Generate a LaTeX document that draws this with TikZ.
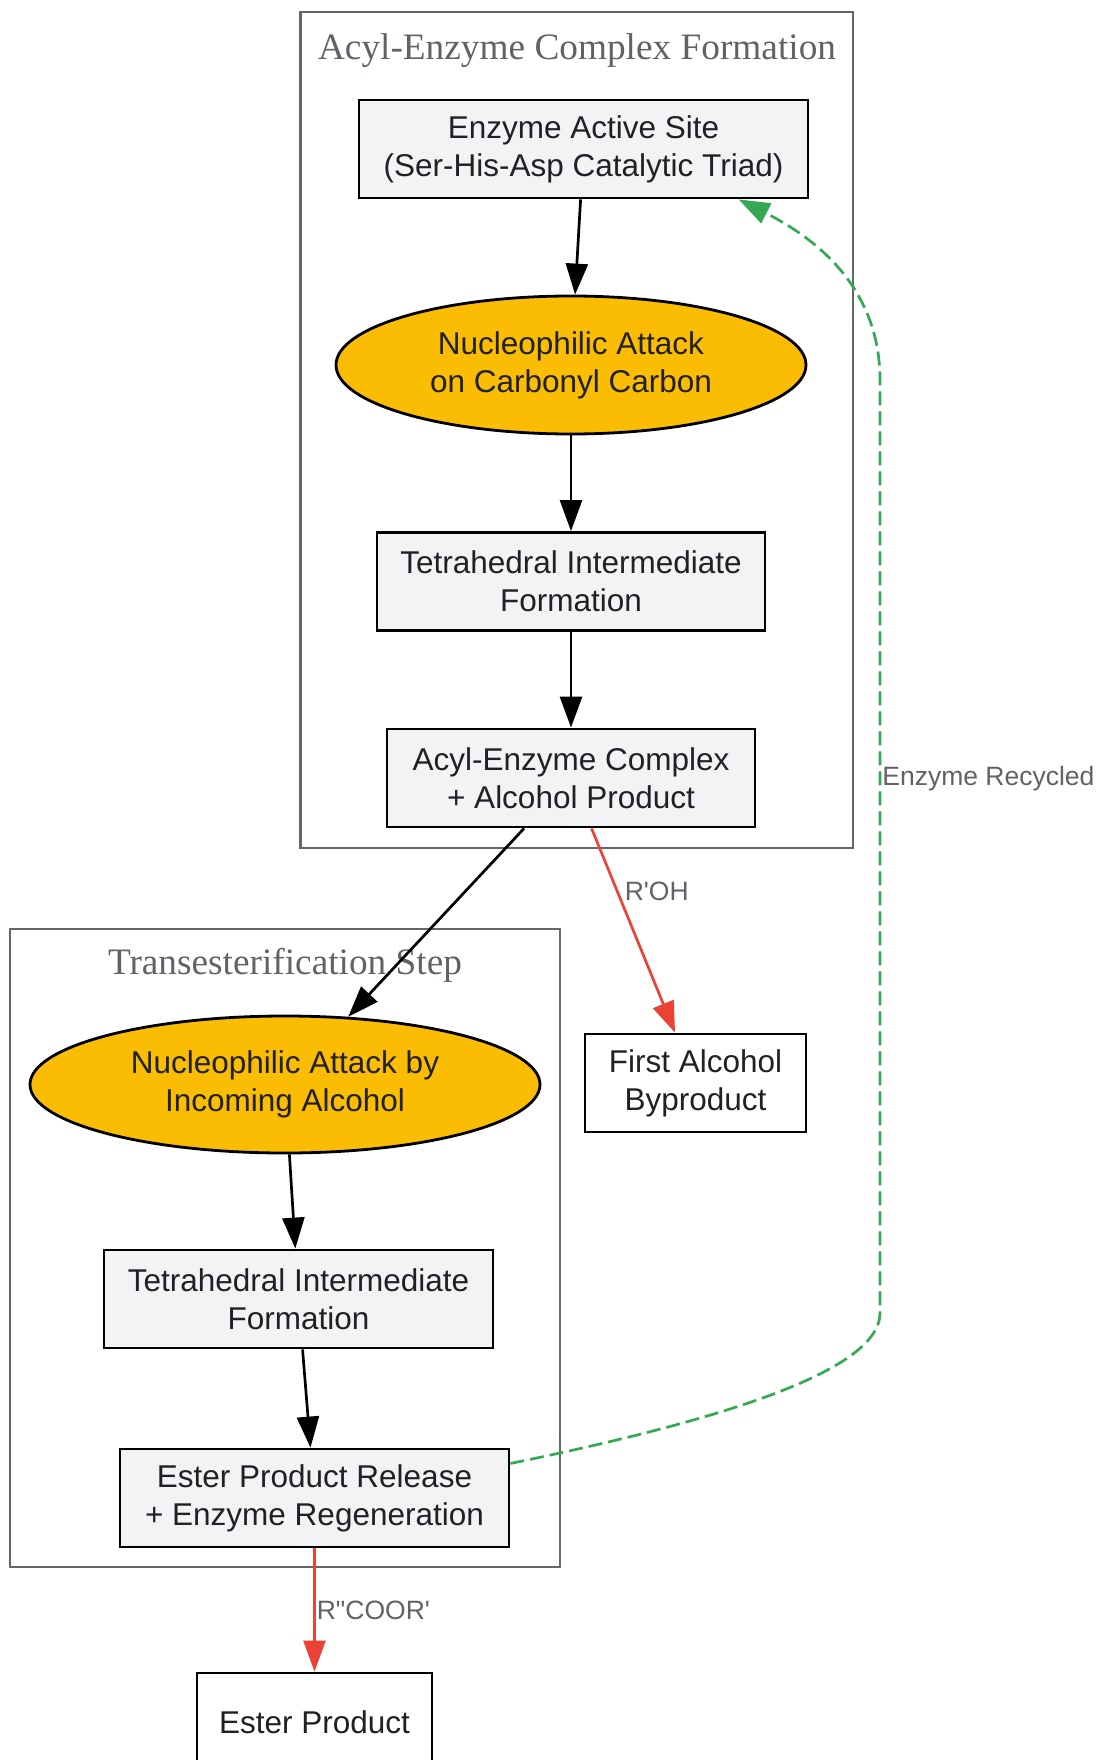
\documentclass[tikz,border=0pt]{standalone}
\usepackage{fontspec}
\setmainfont{Liberation Sans}[Ligatures=TeXOff]
\newfontfamily\titlefont{Liberation Serif}
\usetikzlibrary{positioning, arrows.meta, shapes}
\definecolor{boxfill}{HTML}{F1F3F4}
\definecolor{attackfill}{HTML}{FBBC04}
\definecolor{yieldred}{HTML}{EA4335}
\definecolor{recyclegreen}{HTML}{34A853}
\definecolor{clustergray}{HTML}{666666}
\definecolor{labelgray}{HTML}{5F6368}
\definecolor{inkdark}{HTML}{202124}

\begin{document}
\begin{tikzpicture}[x=1pt,y=-1pt,>={Triangle[length=31pt,width=22pt]},on grid,
	every node/.style={font=\fontsize{31.5}{38}\selectfont, text=inkdark},
	stepbox/.style={draw=black, line width=2.8pt, fill=boxfill, align=center, minimum height=98pt, inner sep=0pt},
	outbox/.style={stepbox, fill=white},
	attack/.style={ellipse, draw=black, line width=2.8pt, fill=attackfill, align=center, inner sep=0pt},
	cluster/.style={draw=clustergray, line width=2.6pt},
	clustertitle/.style={font=\titlefont\fontsize{37.3}{44}\selectfont, text=labelgray},
	elabel/.style={font=\fontsize{26.5}{32}\selectfont, text=labelgray, inner sep=1pt},
	flow/.style={->, line width=2.7pt},
	yieldarrow/.style={->, line width=2.7pt, color=yieldred},
	recycle/.style={->, line width=2.7pt, color=recyclegreen, dash pattern=on 14pt off 6pt}]
	
	\useasboundingbox (0,0) rectangle (1097,1760);
	
	%Clusters
	\draw[cluster] (300.5,12) rectangle (853,848);
	\node[clustertitle] (title1) at (577,51) {Acyl-Enzyme Complex Formation};
	\draw[cluster] (10,929) rectangle (560,1567);
	\node[clustertitle] (title2) at (285,965) {Transesterification Step};
	
	%Reaction steps
	\node[stepbox, minimum width=449pt] (site) at (583.5,149) {Enzyme Active Site\\(Ser-His-Asp Catalytic Triad)};
	\node[attack, minimum width=470pt, minimum height=138pt] (attack1) [below left=216pt and 12.5pt of site] {Nucleophilic Attack\\on Carbonyl Carbon};
	\node[stepbox, minimum width=388pt] (tetra1) [below=216.5pt of attack1] {Tetrahedral Intermediate\\Formation};
	\node[stepbox, minimum width=368pt] (acyl) [below=196.5pt of tetra1] {Acyl-Enzyme Complex\\+ Alcohol Product};
	\node[outbox, minimum width=221pt] (byprod) [below right=305pt and 124.5pt of acyl] {First Alcohol\\Byproduct};
	\node[attack, minimum width=510pt, minimum height=137pt] (attack2) at (285,1084.5) {Nucleophilic Attack by\\Incoming Alcohol};
	\node[stepbox, minimum width=389pt] (tetra2) [below right=214.5pt and 13.5pt of attack2] {Tetrahedral Intermediate\\Formation};
	\node[stepbox, minimum width=389pt] (release) [below right=199pt and 16pt of tetra2] {Ester Product Release\\+ Enzyme Regeneration};
	\node[outbox, minimum width=235pt] (ester) [below=224pt of release] {Ester Product};
	
	%Reaction paths
	\path[flow]
	(site) edge (attack1)
	(attack1) edge (tetra1)
	(tetra1) edge (acyl)
	(acyl) edge (attack2)
	(attack2) edge (tetra2)
	(tetra2) edge (release);
	
	\path[yieldarrow]
	(acyl) edge node[elabel, anchor=west, pos=0.31, xshift=5pt] {R'OH} (byprod)
	(release) edge node[elabel, anchor=west, pos=0.5] {R"COOR'} (ester);
	
	%Enzyme recycling
	\coordinate (bendlow) at (880,1313);
	\coordinate (bendhigh) at (880,380);
	\draw[recycle] (release.10) .. controls (708,1423) and (880,1373) .. (bendlow)
	-- node[elabel, anchor=west, pos=0.573] {Enzyme Recycled} (bendhigh)
	.. controls (880,290) and (819,240) .. (site.-18);
	
\end{tikzpicture}
\end{document}
